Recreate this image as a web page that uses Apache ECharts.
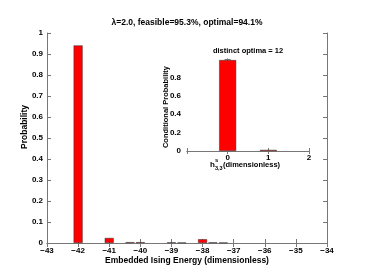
<!DOCTYPE html>
<html><head><meta charset="utf-8">
<script src="https://cdn.jsdelivr.net/npm/echarts@6/dist/echarts.min.js"></script>
<style>html,body{margin:0;padding:0;background:#fff}#c{width:373px;height:276px}</style>
</head><body><div id="c"></div>
<script>
// Main histogram: embedded Ising energy vs probability
const energyBins = [-42, -41, -40.333, -40, -39, -38.667, -38, -37.667, -37.333];
const energyProb = [0.941, 0.024, 0.004, 0.004, 0.003, 0.002, 0.018, 0.003, 0.002];
// Inset: h^s_{3,3} vs conditional probability
const hBins = [0, 1];
const hProb = [0.988, 0.012];
// Axis ranges / tick steps
const mainX = {min: -43, max: -34, step: 1};
const mainY = {min: 0, max: 1, step: 0.1};
const insetX = {min: -1, max: 2, step: 1};
const insetY = {min: 0, max: 1, step: 0.2};
const insetYTicks = [0, 0.2, 0.4, 0.6, 0.8];
const titleText = 'λ=2.0, feasible=95.3%, optimal=94.1%';
const insetTitle = 'distinct optima = 12';

const FONT = 'Liberation Sans, Arial, Helvetica, sans-serif';
const AX = '#777';
const minus = v => String(v).replace('-', '\u2212');
const fs = 8;

function axisCommon(showLabel, tickLen, fmt, margin) {
  return {
    axisLine: {show: true, lineStyle: {color: AX, width: 1}},
    axisTick: {show: true, inside: true, length: tickLen, lineStyle: {color: AX, width: 1}},
    axisLabel: {show: showLabel, color: '#000', fontFamily: FONT, fontSize: fs, fontWeight: 'bold', margin: margin, formatter: fmt, hideOverlap: false},
    splitLine: {show: false}
  };
}

const chart = echarts.init(document.getElementById('c'), null, {renderer: 'canvas'});

const insetLeft = Object.assign({type: 'value', gridIndex: 1, position: 'left', min: insetY.min, max: insetY.max, interval: insetY.step},
  axisCommon(false, 3, null, 5));
const insetRight = Object.assign({type: 'value', gridIndex: 1, position: 'right', min: insetY.min, max: insetY.max, interval: insetY.step},
  axisCommon(false, 3, null, 3));

const baseGraphic = [
  {type: 'text', x: 187, y: 23, style: {text: titleText, font: 'bold 8.5px ' + FONT, fill: '#000', textAlign: 'center', textVerticalAlign: 'middle'}},
  {type: 'text', x: 187, y: 261, style: {text: 'Embedded Ising Energy (dimensionless)', font: 'bold 8.5px ' + FONT, fill: '#000', textAlign: 'center', textVerticalAlign: 'middle'}},
  {type: 'text', x: 25, y: 127, rotation: Math.PI / 2, style: {text: 'Probability', font: 'bold 8.5px ' + FONT, fill: '#000', textAlign: 'center', textVerticalAlign: 'middle'}},
  {type: 'text', x: 248, y: 51, style: {text: insetTitle, font: 'bold 7.5px ' + FONT, fill: '#000', textAlign: 'center', textVerticalAlign: 'middle'}},
  {type: 'text', x: 166, y: 107, rotation: Math.PI / 2, style: {text: 'Conditional Probability', font: 'bold 7.5px ' + FONT, fill: '#000', textAlign: 'center', textVerticalAlign: 'middle'}},
  {type: 'text', x: 210, y: 165, style: {text: 'h', font: 'bold 8px ' + FONT, fill: '#000', textAlign: 'left', textVerticalAlign: 'middle'}},
  {type: 'text', x: 215, y: 160, style: {text: 's', font: 'bold 6px ' + FONT, fill: '#000', textAlign: 'left', textVerticalAlign: 'middle'}},
  {type: 'text', x: 215, y: 168.5, style: {text: '3,3', font: 'bold 5.5px ' + FONT, fill: '#000', textAlign: 'left', textVerticalAlign: 'middle'}},
  {type: 'text', x: 223, y: 165, style: {text: '(dimensionless)', font: 'bold 7.5px ' + FONT, fill: '#000', textAlign: 'left', textVerticalAlign: 'middle'}}
];

const option = {
  animation: false,
  backgroundColor: '#fff',
  grid: [
    {left: 47, right: 46, top: 33, bottom: 33, containLabel: false},
    {left: 187, right: 64, top: 59, bottom: 125, containLabel: false, show: false}
  ],
  xAxis: [
    Object.assign({type: 'value', gridIndex: 0, position: 'bottom', min: mainX.min, max: mainX.max, interval: mainX.step},
      axisCommon(true, 4, v => minus(v), 4)),
    Object.assign({type: 'value', gridIndex: 0, position: 'top', min: mainX.min, max: mainX.max, interval: mainX.step},
      axisCommon(false, 4, null, 4)),
    Object.assign({type: 'value', gridIndex: 1, position: 'bottom', min: insetX.min, max: insetX.max, interval: insetX.step},
      axisCommon(true, 3, v => v < 0 ? '' : minus(v), 3)),
    Object.assign({type: 'value', gridIndex: 1, position: 'top', min: insetX.min, max: insetX.max, interval: insetX.step},
      axisCommon(false, 3, null, 3))
  ],
  yAxis: [
    Object.assign({type: 'value', gridIndex: 0, position: 'left', min: mainY.min, max: mainY.max, interval: mainY.step},
      axisCommon(true, 4, v => String(Math.round(v * 10) / 10), 4)),
    Object.assign({type: 'value', gridIndex: 0, position: 'right', min: mainY.min, max: mainY.max, interval: mainY.step},
      axisCommon(false, 4, null, 4)),
    insetLeft,
    insetRight
  ],
  series: [
    {type: 'bar', xAxisIndex: 0, yAxisIndex: 0, barWidth: 9,
     itemStyle: {color: '#ff0000', borderColor: '#333', borderWidth: 0.5},
     data: energyBins.map((x, i) => [x, energyProb[i]])},
    {type: 'bar', xAxisIndex: 2, yAxisIndex: 2, barWidth: 17,
     itemStyle: {color: '#ff0000', borderColor: '#333', borderWidth: 0.5},
     data: hBins.map((x, i) => [x, hProb[i]])}
  ],
  graphic: baseGraphic
};
chart.setOption(option);

// Inset y tick labels positioned through the inset's own scale
const tickLabels = insetYTicks.map(t => {
  const p = chart.convertToPixel({gridIndex: 1}, [insetX.min, t]);
  return {type: 'text', z: 100, x: p[0] - 6, y: p[1],
          style: {text: String(t), font: 'bold ' + fs + 'px ' + FONT, fill: '#000', textAlign: 'right', textVerticalAlign: 'middle'}};
});
chart.setOption({graphic: baseGraphic.concat(tickLabels)});
</script></body></html>
